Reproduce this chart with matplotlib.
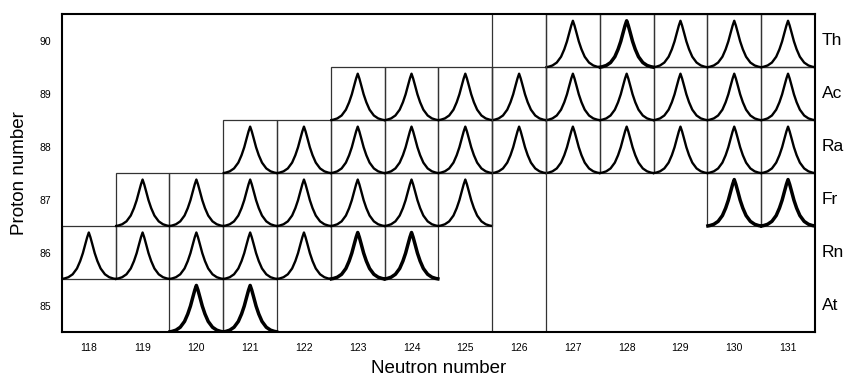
import matplotlib.pyplot as plt
from matplotlib.patches import Rectangle

plt.rcParams['font.family'] = ['Liberation Sans', 'DejaVu Sans']

# neutron numbers on the x axis, proton numbers on the y axis
neutrons = [118, 119, 120, 121, 122, 123, 124, 125, 126, 127, 128, 129, 130, 131]
protons = [85, 86, 87, 88, 89, 90]
elements = ['At', 'Rn', 'Fr', 'Ra', 'Ac', 'Th']

# measured isotopes (neutron numbers) for each element
th_n = [127, 128, 129, 130, 131]
ac_n = [123, 124, 125, 126, 127, 128, 129, 130, 131]
ra_n = [121, 122, 123, 124, 125, 126, 127, 128, 129, 130, 131]
fr_n = [119, 120, 121, 122, 123, 124, 125, 130, 131]
rn_n = [118, 119, 120, 121, 122, 123, 124]
at_n = [120, 121]

# peak shape (half width in cell units, height in cell units)
prof_x = [0.0, 0.03, 0.065, 0.11, 0.16, 0.22, 0.30, 0.38, 0.45, 0.49]
prof_y = [0.88, 0.79, 0.66, 0.49, 0.34, 0.20, 0.09, 0.035, 0.012, 0.004]

# peaks that look heavier (more counts)
bold = [(86, 123), (86, 124), (87, 131), (87, 130), (90, 128), (85, 121), (85, 120)]

rows = {90: th_n, 89: ac_n, 88: ra_n, 87: fr_n, 86: rn_n, 85: at_n}

px = [-v for v in prof_x[::-1]] + prof_x[1:]
py = prof_y[::-1] + prof_y[1:]

fig = plt.figure(figsize=(8.48, 3.79), dpi=100)
ax = fig.add_axes([0.073, 0.124, 0.888, 0.838])

for z, ns in rows.items():
    for n in ns:
        ax.add_patch(Rectangle((n - 0.5, z - 0.5), 1, 1, fill=False,
                               edgecolor='#333333', lw=0.9))
        lw = 2.5 if (z, n) in bold else 1.7
        ax.plot([n + x for x in px], [z - 0.5 + y for y in py],
                color='black', lw=lw, solid_joinstyle='round')

# the N=126 column boundaries run the full height
for xv in (125.5, 126.5):
    ax.axvline(xv, color='#333333', lw=0.9)

ax.set_xlim(neutrons[0] - 0.5, neutrons[-1] + 0.5)
ax.set_ylim(protons[0] - 0.5, protons[-1] + 0.5)
ax.set_xticks(neutrons)
ax.set_yticks(protons)
ax.tick_params(length=0, labelsize=7.5, pad=8)
for s in ax.spines.values():
    s.set_linewidth(1.5)

for z, el in zip(protons, elements):
    ax.text(131.5 + 0.13, z, el, fontsize=12.5, va='center', ha='left')

ax.set_xlabel('Neutron number', fontsize=13.5, labelpad=5)
ax.set_ylabel('Proton number', fontsize=13.5, labelpad=8)

fig.savefig('out.png', dpi=100)
